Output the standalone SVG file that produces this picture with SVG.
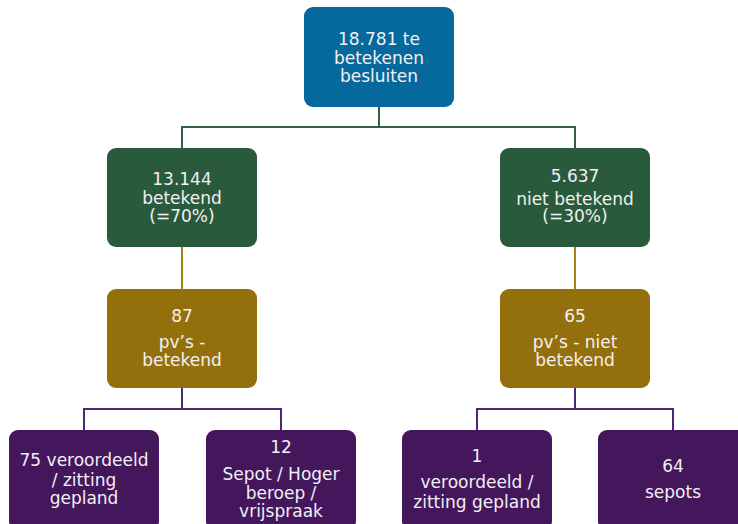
<svg xmlns="http://www.w3.org/2000/svg" width="738" height="524" viewBox="0 0 738 524">
<style>
.t{font-family:"DejaVu Sans","Verdana",sans-serif;font-size:17px;fill:#f2f0f2;text-anchor:middle}
.blue{fill:#05699d}
.green{fill:#285a3b}
.gold{fill:#94700c}
.purple{fill:#44165c}
.c{fill:none;stroke-width:2}
</style>
<rect width="738" height="524" fill="#ffffff"/>
<g id="connectors">
<path class="c" stroke="#2f6140" d="M379 107V127M182 138V127H575V148"/>
<path class="c" stroke="#2f6140" d="M182 127V148"/>
<path class="c" stroke="#a8830f" d="M182 247V289M575 247V289"/>
<path class="c" stroke="#4e2673" d="M182 388V409M84 430V409H281V430M575 388V409M477 430V409H673V430"/>
</g>
<g id="n-total">
<rect class="blue" x="304" y="7" width="150" height="100" rx="9"/>
<text class="t" x="379" y="45">18.781 te</text>
<text class="t" x="379" y="63.5">betekenen</text>
<text class="t" x="379" y="82">besluiten</text>
</g>
<g id="n-betekend">
<rect class="green" x="107" y="148" width="150" height="99" rx="9"/>
<text class="t" x="182" y="185">13.144</text>
<text class="t" x="182" y="203.5">betekend</text>
<text class="t" x="182" y="222">(=70%)</text>
</g>
<g id="n-niet-betekend">
<rect class="green" x="500" y="148" width="150" height="99" rx="9"/>
<text class="t" x="575" y="182">5.637</text>
<text class="t" x="575" y="205">niet betekend</text>
<text class="t" x="575" y="222">(=30%)</text>
</g>
<g id="n-pv-betekend">
<rect class="gold" x="107" y="289" width="150" height="99" rx="9"/>
<text class="t" x="182" y="322">87</text>
<text class="t" x="182" y="348">pv’s -</text>
<text class="t" x="182" y="366">betekend</text>
</g>
<g id="n-pv-niet-betekend">
<rect class="gold" x="500" y="289" width="150" height="99" rx="9"/>
<text class="t" x="575" y="322">65</text>
<text class="t" x="575" y="348">pv’s - niet</text>
<text class="t" x="575" y="366">betekend</text>
</g>
<g id="n-75">
<rect class="purple" x="9" y="430" width="150" height="100" rx="9"/>
<text class="t" x="84" y="466">75 veroordeeld</text>
<text class="t" x="84" y="486">/ zitting</text>
<text class="t" x="84" y="504">gepland</text>
</g>
<g id="n-12">
<rect class="purple" x="206" y="430" width="150" height="100" rx="9"/>
<text class="t" x="281" y="453">12</text>
<text class="t" x="281" y="480">Sepot / Hoger</text>
<text class="t" x="281" y="499">beroep /</text>
<text class="t" x="281" y="517">vrijspraak</text>
</g>
<g id="n-1">
<rect class="purple" x="402" y="430" width="150" height="100" rx="9"/>
<text class="t" x="477" y="462">1</text>
<text class="t" x="477" y="488">veroordeeld /</text>
<text class="t" x="477" y="508">zitting gepland</text>
</g>
<g id="n-64">
<rect class="purple" x="598" y="430" width="150" height="100" rx="9"/>
<text class="t" x="673" y="472">64</text>
<text class="t" x="673" y="498">sepots</text>
</g>
</svg>
